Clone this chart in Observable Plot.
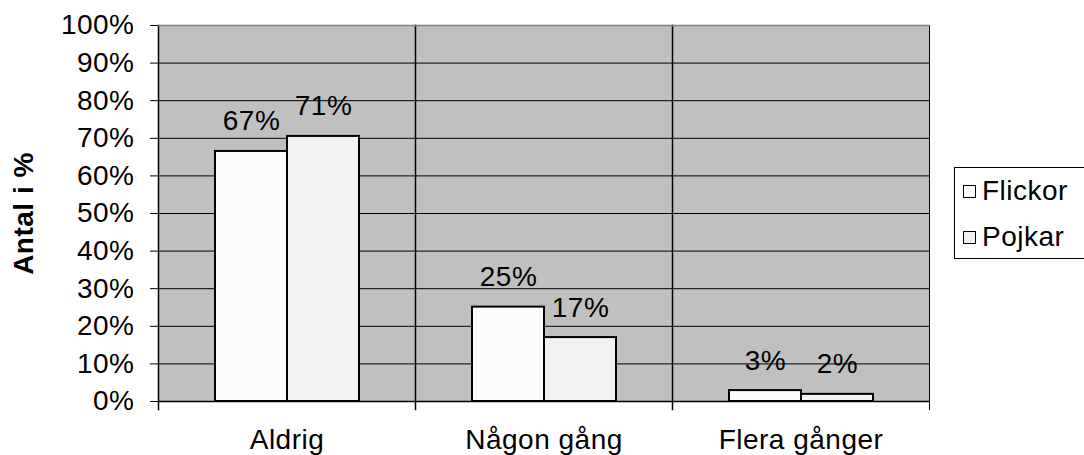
<!DOCTYPE html>
<html>
<head>
<meta charset="utf-8">
<script src="https://cdn.jsdelivr.net/npm/d3@7"></script>
<script src="https://cdn.jsdelivr.net/npm/@observablehq/plot@0.6"></script>
<style>
  html, body { margin: 0; padding: 0; background: #fff; }
  #wrap { position: relative; width: 1084px; height: 455px; overflow: hidden; font-family: "Liberation Sans", Arial, sans-serif; }
  #legend { position: absolute; left: 954px; top: 167px; width: 160px; height: 92px; border: 1px solid #000; background: #fff; box-sizing: border-box; }
  .item { position: absolute; left: 8px; display: flex; align-items: center; font-size: 28px; letter-spacing: 0.5px; line-height: 30px; color: #000; }
  .sw { width: 13px; height: 13px; border: 1.5px solid #000; margin-right: 6px; box-sizing: border-box; }
  svg text { letter-spacing: 0.5px; }
</style>
</head>
<body>
<div id="wrap"><div id="chart"></div><div id="legend"></div></div>
<script>
const categories = ["Aldrig", "Någon gång", "Flera gånger"];
const series = ["Flickor", "Pojkar"];
const flickor = [66.5, 25.1, 2.9];
const pojkar = [70.5, 17.0, 1.9];
const yTicks = [0, 10, 20, 30, 40, 50, 60, 70, 80, 90, 100];
const colors = ["#fcfcfc", "#f2f2f2"];

const data = [];
categories.forEach((c, i) => {
  data.push({cat: c, series: "Flickor", value: flickor[i]});
  data.push({cat: c, series: "Pojkar", value: pojkar[i]});
});

const fs = 28;
const chart = Plot.plot({
  width: 1084,
  height: 455,
  marginLeft: 158,
  marginRight: 155,
  marginTop: 25,
  marginBottom: 54,
  style: {fontFamily: "'Liberation Sans', Arial, sans-serif", fontSize: fs + "px", color: "#000", background: "#fff"},
  fx: {domain: categories, padding: 0, label: null},
  x: {domain: series, paddingInner: 0, paddingOuter: 0.77, axis: null},
  y: {domain: [0, 100], label: null},
  color: {domain: series, range: colors},
  marks: [
    Plot.frame({fill: "#c0c0c0"}),
    Plot.gridY(yTicks, {stroke: "#000", strokeOpacity: 1, strokeWidth: 1}),
    Plot.frame({anchor: "left", stroke: "#000", strokeWidth: 1.5, insetBottom: -8}),
    Plot.frame({anchor: "right", stroke: "#000", strokeWidth: 1, insetBottom: -8}),
    Plot.frame({anchor: "top", stroke: "#808080", strokeWidth: 1.5}),
    Plot.ruleY([0], {stroke: "#000", strokeWidth: 1.5}),
    Plot.barY(data, {fx: "cat", x: "series", y: "value", fill: "series", stroke: "#000", strokeWidth: 2}),
    Plot.text(data, {fx: "cat", x: "series", y: "value", text: d => Math.round(d.value) + "%", lineAnchor: "bottom", dy: -21, fontSize: fs, fill: "#000"}),
    Plot.axisY({ticks: yTicks, tickFormat: d => d + "%", tickSize: 8, tickPadding: 16, fontSize: fs, label: "Antal i %", labelAnchor: "center", labelArrow: "none", labelOffset: 145}),
    Plot.axisFx({anchor: "bottom", tickSize: 0, tickPadding: 28, fontSize: fs, label: null})
  ]
});
document.getElementById("chart").appendChild(chart);
// bold y-axis label
chart.querySelectorAll("text").forEach(t => {
  if (t.textContent === "Antal i %") { t.style.fontWeight = "bold"; t.setAttribute("font-size", fs); }
});

const legend = document.getElementById("legend");
series.forEach((s, i) => {
  const it = document.createElement("div");
  it.className = "item";
  it.style.top = (i === 0 ? 8 : 54) + "px";
  const sw = document.createElement("div");
  sw.className = "sw";
  sw.style.background = colors[i];
  const lb = document.createElement("span");
  lb.textContent = s;
  it.appendChild(sw); it.appendChild(lb);
  legend.appendChild(it);
});
</script>
</body>
</html>
